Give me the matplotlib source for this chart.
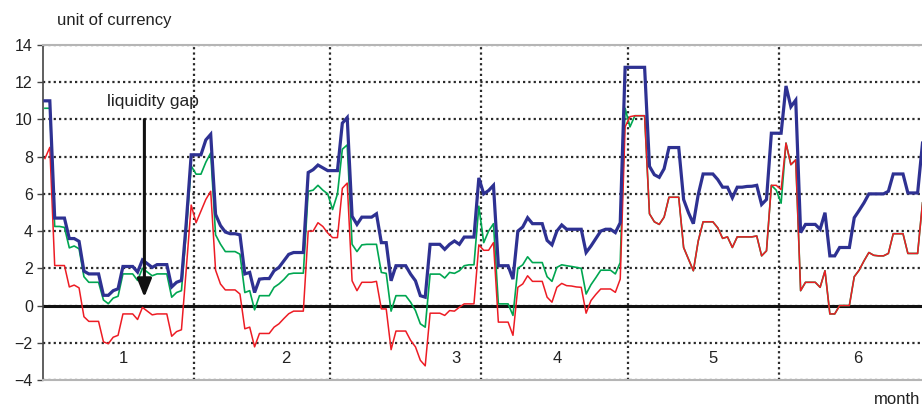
import numpy as np
import matplotlib.pyplot as plt

plt.rcParams['font.family'] = ['Liberation Sans', 'DejaVu Sans']

# days per month (Jan..Jun), month label positions in days
month_len = [31, 28, 31, 30, 31, 30]
month_labels = ['1', '2', '3', '4', '5', '6']
label_days = [16.6, 50.0, 84.7, 105.6, 137.6, 167.2]

# daily values, one row per month
blue = [
    11.0, 11.0, 4.7, 4.7, 4.7, 3.6, 3.6, 3.45, 1.85, 1.7,
    1.7, 1.7, 0.55, 0.55, 0.8, 0.9, 2.1, 2.1, 2.1, 1.8,
    2.45, 2.25, 2.05, 2.2, 2.2, 2.2, 1.0, 1.25, 1.35, 4.5, 8.1,
    8.1, 8.1, 8.9, 9.2, 4.9, 4.3, 3.95, 3.86, 3.86, 3.8,
    1.7, 1.78, 0.7, 1.42, 1.45, 1.45, 1.87, 2.05, 2.4, 2.75,
    2.85, 2.85, 2.85, 7.15, 7.3, 7.55, 7.4, 7.25,
    7.25, 7.25, 9.8, 10.1, 4.8, 4.36, 4.75, 4.75, 4.75, 4.93,
    3.38, 3.38, 1.33, 2.14, 2.14, 2.14, 1.69, 1.33, 0.53, 0.45,
    3.29, 3.29, 3.29, 3.02, 3.29, 3.47, 3.29, 3.68, 3.68, 3.68, 6.86,
    6.0, 6.18, 6.46, 2.14, 2.14, 2.14, 1.42, 4.0, 4.22, 4.72,
    4.4, 4.4, 4.4, 3.5, 3.26, 4.0, 4.33, 4.1, 4.1, 4.1,
    4.1, 2.85, 3.2, 3.6, 4.0, 4.1, 4.1, 3.92, 4.45, 12.8,
    12.8, 12.8, 12.8, 12.8, 7.48, 7.03, 6.89, 7.35, 8.49, 8.49,
    8.49, 5.7, 4.99, 4.4, 5.96, 7.07, 7.07, 7.07, 6.77, 6.36,
    6.36, 5.79, 6.36, 6.36, 6.4, 6.41, 6.46, 5.43, 5.7, 9.26, 9.26,
    9.26, 11.8, 10.68, 11.04, 3.92, 4.36, 4.36, 4.36, 4.1, 4.99,
    2.67, 2.67, 3.12, 3.12, 3.12, 4.72, 5.11, 5.52, 6.0, 6.0,
    6.0, 6.0, 6.14, 7.07, 7.07, 7.07, 6.05, 6.05, 6.05, 8.73,
]

green = [
    10.6, 10.6, 4.25, 4.25, 4.2, 3.1, 3.2, 3.05, 1.55, 1.25,
    1.25, 1.25, 0.3, 0.1, 0.4, 0.5, 1.7, 1.7, 1.7, 1.35,
    2.0, 1.8, 1.6, 1.7, 1.7, 1.7, 0.45, 0.7, 0.8, 4.0, 7.5,
    7.06, 7.06, 7.7, 8.2, 3.8, 3.3, 2.9, 2.9, 2.9, 2.76,
    0.7, 0.8, -0.23, 0.53, 0.53, 0.53, 0.98, 1.16, 1.4, 1.69,
    1.74, 1.74, 1.74, 6.14, 6.2, 6.46, 6.2, 6.0,
    5.16, 6.0, 8.4, 8.63, 3.29, 2.9, 3.26, 3.29, 3.29, 3.29,
    1.78, 1.73, -0.3, 0.53, 0.53, 0.53, 0.18, -0.27, -0.98, -1.16,
    1.69, 1.69, 1.69, 1.48, 1.78, 1.73, 1.87, 2.14, 2.19, 2.19, 5.34,
    3.38, 4.0, 4.4, 0.09, 0.09, 0.09, -0.53, 2.0, 2.19, 2.62,
    2.31, 2.31, 2.31, 1.55, 1.3, 2.05, 2.19, 2.14, 2.1, 2.05,
    2.0, 0.62, 1.12, 1.5, 1.9, 1.9, 1.9, 1.7, 2.31, 10.6,
    9.6, 10.2, 10.2, 10.2, 4.93, 4.5, 4.36, 4.75, 5.82, 5.82,
    5.82, 3.12, 2.49, 1.87, 3.47, 4.5, 4.5, 4.5, 4.18, 3.61,
    3.69, 3.12, 3.69, 3.69, 3.69, 3.69, 3.74, 2.67, 2.94, 6.46, 6.2,
    5.5, 8.73, 7.57, 7.83, 0.8, 1.25, 1.25, 1.25, 0.98, 1.87,
    -0.45, -0.45, 0.0, 0.0, 0.0, 1.55, 1.9, 2.4, 2.85, 2.7,
    2.67, 2.67, 2.8, 3.86, 3.86, 3.86, 2.8, 2.8, 2.8, 5.52,
]

red = [
    7.9, 8.5, 2.15, 2.15, 2.15, 1.0, 1.1, 0.95, -0.6, -0.85,
    -0.85, -0.85, -1.95, -2.05, -1.7, -1.6, -0.45, -0.45, -0.45, -0.75,
    -0.1, -0.3, -0.5, -0.45, -0.45, -0.45, -1.65, -1.4, -1.3, 2.0, 5.4,
    4.45, 5.07, 5.7, 6.14, 1.9, 1.16, 0.84, 0.84, 0.84, 0.62,
    -1.25, -1.16, -2.22, -1.5, -1.5, -1.5, -1.16, -0.98, -0.7, -0.44,
    -0.3, -0.3, -0.3, 4.0, 4.0, 4.45, 4.25, 3.9,
    3.65, 3.65, 6.3, 6.58, 1.33, 0.8, 1.25, 1.25, 1.25, 1.3,
    -0.18, -0.18, -2.37, -1.37, -1.37, -1.37, -1.87, -2.22, -2.94, -3.24,
    -0.41, -0.41, -0.41, -0.53, -0.27, -0.3, -0.09, 0.09, 0.09, 0.09, 3.26,
    2.97, 2.97, 3.38, -0.89, -0.89, -0.89, -1.6, 0.98, 1.16, 1.6,
    1.3, 1.3, 1.3, 0.45, 0.18, 0.98, 1.19, 1.07, 1.05, 1.0,
    0.98, -0.41, 0.27, 0.6, 0.89, 0.89, 0.89, 0.71, 1.42, 9.6,
    10.15, 10.2, 10.2, 10.2, 4.93, 4.5, 4.36, 4.75, 5.82, 5.82,
    5.82, 3.12, 2.49, 1.87, 3.47, 4.5, 4.5, 4.5, 4.18, 3.61,
    3.69, 3.12, 3.69, 3.69, 3.69, 3.69, 3.74, 2.67, 2.94, 6.46, 6.46,
    6.23, 8.73, 7.57, 7.83, 0.8, 1.25, 1.25, 1.25, 0.98, 1.87,
    -0.45, -0.45, 0.0, 0.0, 0.0, 1.55, 1.9, 2.4, 2.85, 2.7,
    2.67, 2.67, 2.8, 3.86, 3.86, 3.86, 2.8, 2.8, 2.8, 5.52,
]

# liquidity gap arrow (day, from, to)
gap_day = 20.9
gap_top = 10.0
gap_tip = 0.45

days = np.arange(len(blue)) + 0.5
bounds = np.cumsum(month_len)[:-1]

fig = plt.figure(figsize=(9.22, 4.05), dpi=100)
ax = fig.add_axes([42.5 / 922, 25 / 405, 880 / 922, 335 / 405])

ax.plot(days, green, color='#00a651', lw=1.2, zorder=3)
ax.plot(days, red, color='#ed1c24', lw=1.1, zorder=4)
ax.plot(days, blue, color='#2e3192', lw=2.3, zorder=5, solid_joinstyle='miter')
ax.axhline(0, color='#111111', lw=2.2, zorder=2)

ax.set_xlim(0, 180.5)
ax.set_ylim(-4, 14)
ax.set_yticks(np.arange(-4, 15, 2))
ax.set_xticks(bounds)
ax.set_xticklabels([])

dots = (0, (1, 1.4))
ax.grid(True, ls=dots, lw=1.6, color='#2a2a2a', zorder=1)
ax.set_axisbelow(True)

ax.tick_params(axis='x', length=0)
ax.tick_params(axis='y', length=4, width=1, color='#444444', pad=3,
               labelsize=11.5, labelcolor='#222222')
for s in ['top', 'bottom']:
    ax.spines[s].set_color('#b5b5b5')
    ax.spines[s].set_linewidth(1.5)
ax.spines['left'].set_color('#444444')
ax.spines['left'].set_linewidth(1.2)
ax.spines['right'].set_visible(False)

for lab, d in zip(month_labels, label_days):
    ax.text(d, -2.83, lab, ha='center', va='center', fontsize=12, color='#222222')

ax.annotate('', xy=(gap_day, gap_tip), xytext=(gap_day, gap_top),
            arrowprops=dict(arrowstyle='-|>,head_length=0.55,head_width=0.22',
                            lw=2.2, color='#111111', mutation_scale=20,
                            shrinkA=0, shrinkB=0), zorder=6)
ax.text(22.6, 10.95, 'liquidity gap', ha='center', va='center',
        fontsize=12.5, color='#222222', zorder=6)

fig.text(57 / 922, 1 - 21 / 405, 'unit of currency', ha='left', va='center',
         fontsize=12, color='#222222')
fig.text(920 / 922, 1 - 399 / 405, 'month', ha='right', va='center',
         fontsize=12, color='#222222')

fig.savefig('out.png', dpi=100)
